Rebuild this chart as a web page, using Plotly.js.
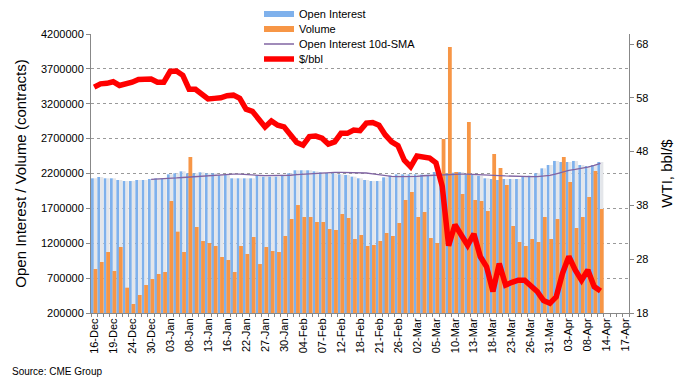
<!DOCTYPE html>
<html><head><meta charset="utf-8">
<script src="https://cdn.plot.ly/plotly-3.0.1.min.js"></script>
<style>html,body{margin:0;padding:0;background:#fff;}#chart{width:683px;height:384px;}</style>
</head><body><div id="chart"></div>
<script>
// Trading days shown on the category axis (16-Dec .. 17-Apr)
const categories = [
 "16-Dec","17-Dec","18-Dec","19-Dec","20-Dec","23-Dec","24-Dec","26-Dec","27-Dec","30-Dec",
 "31-Dec","02-Jan","03-Jan","06-Jan","07-Jan","08-Jan","09-Jan","10-Jan","13-Jan","14-Jan",
 "15-Jan","16-Jan","17-Jan","21-Jan","22-Jan","23-Jan","24-Jan","27-Jan","28-Jan","29-Jan",
 "30-Jan","31-Jan","03-Feb","04-Feb","05-Feb","06-Feb","07-Feb","10-Feb","11-Feb","12-Feb",
 "13-Feb","14-Feb","18-Feb","19-Feb","20-Feb","21-Feb","24-Feb","25-Feb","26-Feb","27-Feb",
 "28-Feb","02-Mar","03-Mar","04-Mar","05-Mar","06-Mar","09-Mar","10-Mar","11-Mar","12-Mar",
 "13-Mar","16-Mar","17-Mar","18-Mar","19-Mar","20-Mar","23-Mar","24-Mar","25-Mar","26-Mar",
 "27-Mar","30-Mar","31-Mar","01-Apr","02-Apr","03-Apr","06-Apr","07-Apr","08-Apr","09-Apr",
 "13-Apr","14-Apr","15-Apr","16-Apr","17-Apr"
];
const tickLabels = ["16-Dec","19-Dec","24-Dec","30-Dec","03-Jan","08-Jan","13-Jan","16-Jan","22-Jan",
 "27-Jan","30-Jan","04-Feb","07-Feb","12-Feb","18-Feb","21-Feb","26-Feb","02-Mar","05-Mar","10-Mar",
 "13-Mar","18-Mar","23-Mar","26-Mar","31-Mar","03-Apr","08-Apr","14-Apr","17-Apr"];

// Data dates: 16-Dec .. 13-Apr
const dataDates = categories.slice(0, 81);

const openInterest = [
 2131000,2150000,2131000,2131000,2107000,2092000,2092000,2107000,2107000,2121000,
 2131000,2131000,2188000,2203000,2231000,2203000,2203000,2217000,2203000,2203000,
 2178000,2178000,2131000,2131000,2131000,2131000,2169000,2155000,2155000,2155000,
 2179000,2203000,2246000,2246000,2246000,2231000,2217000,2203000,2203000,2188000,
 2179000,2155000,2131000,2107000,2092000,2092000,2145000,2169000,2188000,2188000,
 2188000,2188000,2185000,2185000,2222000,2203000,2203000,2212000,2222000,2188000,
 2179000,2169000,2131000,2121000,2107000,2121000,2121000,2121000,2155000,2169000,
 2203000,2274000,2322000,2380000,2365000,2365000,2380000,2322000,2307000,2322000,
 2365000
];
const volume = [
 831000,931000,1075000,802000,1146000,563000,329000,458000,601000,687000,
 759000,788000,1806000,1366000,1075000,2437000,1433000,1232000,1204000,1161000,
 1003000,960000,788000,1161000,1046000,1290000,902000,1146000,1089000,1075000,
 1304000,1548000,1748000,1576000,1576000,1505000,1505000,1404000,1390000,1619000,
 1562000,1261000,1318000,1161000,1175000,1232000,1347000,1304000,1490000,1820000,
 1935000,1576000,1648000,1275000,1204000,2695000,4014000,2222000,1906000,2938000,
 1820000,1806000,1662000,2480000,2279000,2035000,1447000,1218000,1161000,1261000,
 1218000,1576000,1261000,1548000,2437000,2078000,1419000,1576000,1863000,2236000,
 1691000
];
// 10-day SMA of open interest, first value on 30-Dec
const smaDates = dataDates.slice(9);
const oiSma = [
 2117000,2120000,2124000,2130000,2136000,2143000,2150000,2155000,2160000,2166000,
 2172000,2180000,2186000,2190000,2190000,2188000,2180000,2174000,2170000,2169000,
 2169000,2170000,2175000,2183000,2190000,2198000,2205000,2210000,2214000,2216000,
 2217000,2217000,2217000,2215000,2207000,2195000,2180000,2167000,2160000,2155000,
 2155000,2155000,2160000,2168000,2172000,2180000,2188000,2190000,2190000,2190000,
 2190000,2188000,2185000,2180000,2175000,2170000,2165000,2160000,2156000,2155000,
 2155000,2155000,2160000,2172000,2195000,2225000,2245000,2258000,2270000,2290000,
 2315000,2346000
];
const wti = [
 60.0,60.6,60.7,61.0,60.3,60.5,60.9,61.4,61.5,61.5,
 60.9,60.9,62.9,63.0,62.2,59.6,59.6,58.8,57.8,57.9,
 58.0,58.4,58.5,57.9,55.9,55.5,53.9,52.6,53.7,52.9,
 52.6,51.3,49.7,49.2,50.8,50.9,50.5,49.4,49.8,51.4,
 51.4,52.0,51.9,53.3,53.4,52.9,51.1,49.8,49.1,46.4,
 45.2,47.2,46.9,46.8,45.9,41.5,30.5,34.4,32.5,30.6,
 32.7,28.5,26.6,22.0,27.2,23.2,23.7,24.1,24.1,23.2,
 22.0,20.3,19.8,21.0,25.4,28.5,26.0,24.1,26.0,22.9,
 22.1
];

const FONT = '"Liberation Sans", Arial, Helvetica, sans-serif';
const BLUE = '#7fb1ec', SHADE = '#e4e6ea', ORANGE = '#f79646', PURPLE = '#8064a2', RED = '#ff0000';

const traces = [
 {type:'bar', x:dataDates, y:openInterest, width:0.45, offset:-0.5, marker:{color:BLUE, line:{width:0}}, showlegend:false, hoverinfo:'skip'},
 {type:'bar', x:dataDates, y:openInterest, width:0.5, offset:-0.05, marker:{color:SHADE, line:{width:0}}, showlegend:false, hoverinfo:'skip'},
 {type:'bar', x:dataDates, y:volume, width:0.6, offset:-0.1, marker:{color:ORANGE, line:{width:0}}, showlegend:false, name:'Volume'},
 {type:'scatter', mode:'lines', x:smaDates, y:oiSma, line:{color:PURPLE, width:1.3}, name:'Open Interest 10d-SMA', legend:'legend3'},
 {type:'scatter', mode:'lines', x:dataDates, y:wti, yaxis:'y2', line:{color:RED, width:5.5}, name:'$/bbl', legend:'legend4'},
 // legend entries for the bar series
 {type:'scatter', mode:'lines', x:[null], y:[null], line:{color:BLUE, width:6}, name:'Open Interest', legend:'legend'},
 {type:'scatter', mode:'lines', x:[null], y:[null], line:{color:ORANGE, width:6}, name:'Volume', legend:'legend2'}
];

const L = 91, R = 54, T = 34, B = 71, PW = 683 - L - R, PH = 384 - T - B;
const px = v => (v - L) / PW;
const py = v => (384 - B - v) / PH;
const legendBase = {xanchor:'left', yanchor:'middle', bgcolor:'rgba(0,0,0,0)', borderwidth:0,
  font:{family:FONT, size:11, color:'#000'}, itemclick:false, itemdoubleclick:false};

const layout = {
 width:683, height:384,
 margin:{l:L, r:R, t:T, b:B, pad:0, autoexpand:false},
 paper_bgcolor:'#fff', plot_bgcolor:'#fff',
 font:{family:FONT, size:11, color:'#000'},
 barmode:'overlay',
 xaxis:{type:'category', categoryorder:'array', categoryarray:categories, range:[-0.5, categories.length-0.5],
   tickvals:categories, ticktext:categories.map(c => tickLabels.includes(c) ? c : ''),
   tickangle:-90, tickson:'boundaries', ticks:'outside', ticklen:3, tickcolor:'#888',
   showline:true, linecolor:'#888', linewidth:1, showgrid:false, zeroline:false,
   tickfont:{family:FONT, size:11, color:'#000'}},
 yaxis:{range:[200000, 4200000], tick0:200000, dtick:500000, tickformat:'d',
   showgrid:true, gridcolor:'#9a9a9a', griddash:'dot', gridwidth:1,
   showline:true, linecolor:'#888', linewidth:1, ticks:'outside', ticklen:4, tickcolor:'#888',
   zeroline:false, tickfont:{family:FONT, size:11, color:'#000'},
   title:{text:'Open Interest / Volume (contracts)', font:{family:FONT, size:15, color:'#000'}, standoff:10}},
 yaxis2:{overlaying:'y', side:'right', range:[18, 69.87], tick0:18, dtick:10,
   showgrid:false, showline:true, linecolor:'#888', linewidth:1, ticks:'outside', ticklen:4, tickcolor:'#888',
   zeroline:false, tickfont:{family:FONT, size:11, color:'#000'},
   title:{text:'WTI, bbl/$', font:{family:FONT, size:15, color:'#000'}, standoff:14}},
 legend: Object.assign({}, legendBase, {x:px(259), y:py(14)}),
 legend2: Object.assign({}, legendBase, {x:px(259), y:py(29)}),
 legend3: Object.assign({}, legendBase, {x:px(259), y:py(44)}),
 legend4: Object.assign({}, legendBase, {x:px(259), y:py(59)}),
 showlegend:true,
 annotations:[{xref:'paper', yref:'paper', x:px(10), y:py(371), xanchor:'left', yanchor:'middle',
   text:'Source: CME Group', showarrow:false, font:{family:FONT, size:10, color:'#000'}}]
};

Plotly.newPlot('chart', traces, layout, {staticPlot:true, displayModeBar:false});
</script>
</body></html>
